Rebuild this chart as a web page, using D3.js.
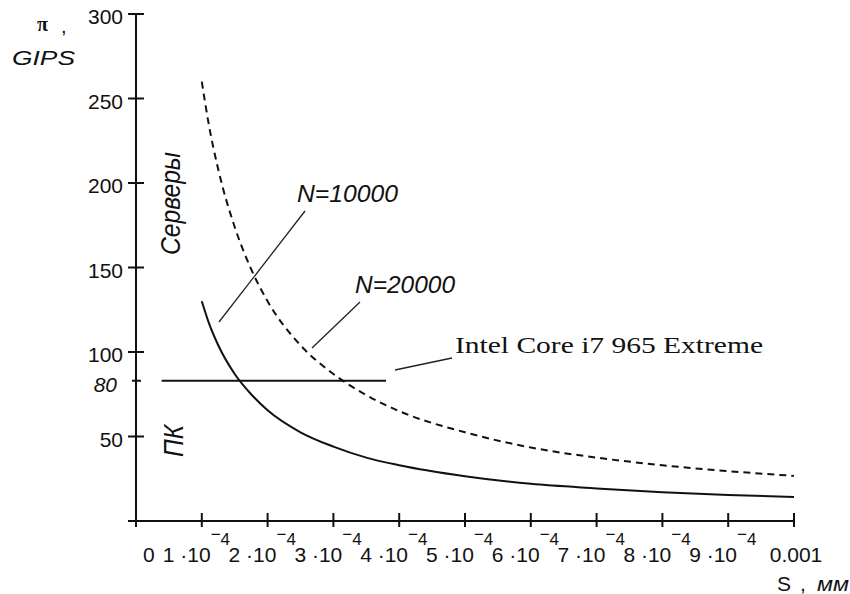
<!DOCTYPE html>
<html lang="ru">
<head>
  <meta charset="UTF-8" />
  <title>π(S)</title>
  <script src="https://d3js.org/d3.v7.min.js"></script>
  <style>
    body { margin: 0; background: #fff; }
    text { font-family: "Liberation Sans", Arial, sans-serif; fill: #111; }
    .serif { font-family: "Liberation Serif", "Times New Roman", serif; }
  </style>
</head>
<body>
  <svg id="chart" width="850" height="594"></svg>

  <script>
    // S in units of 1e-4 mm
    const sValues = [1.0, 1.1, 1.25, 1.5, 1.75, 2, 2.5, 3, 3.5, 4, 5, 6, 7, 8, 9, 10];
    const n10000 = [130, 118, 104, 87, 75, 65.5, 52.5, 44, 37.5, 33, 26.5, 22, 19.3, 17, 15.4, 14.2];
    const n20000 = [260, 236, 208, 174, 149, 130, 104, 87, 74.5, 65, 52.5, 43.5, 37.5, 33, 29.5, 26.7];

    const yTicks = [50, 100, 150, 200, 250, 300];
    const xTicks = [0, 1, 2, 3, 4, 5, 6, 7, 8, 9, 10];
    const xTickLabels = ["0", "1", "2", "3", "4", "5", "6", "7", "8", "9", "0.001"];

    // Intel Core i7 965 Extreme marker
    const markerValue = 83;
    const markerLabel = "80";
    const markerSpan = [0.39, 3.8];

    const svg = d3.select("#chart");
    const x = d3.scaleLinear().domain([0, 10]).range([136, 794]);
    const y = d3.scaleLinear().domain([0, 300]).range([521, 14]);

    // axes
    svg.append("line").attr("x1", x(0) - 8).attr("x2", x(10)).attr("y1", y(0)).attr("y2", y(0))
      .attr("stroke", "#111").attr("stroke-width", 2);
    svg.append("line").attr("x1", x(0)).attr("x2", x(0)).attr("y1", y(300)).attr("y2", y(0) + 6)
      .attr("stroke", "#111").attr("stroke-width", 2);

    svg.selectAll(".ytick").data(yTicks).join("line")
      .attr("x1", x(0) - 8).attr("x2", x(0) + 8)
      .attr("y1", d => y(d)).attr("y2", d => y(d))
      .attr("stroke", "#111").attr("stroke-width", 2);

    svg.selectAll(".ylab").data(yTicks).join("text")
      .attr("x", 123).attr("y", d => y(d) + 10)
      .attr("text-anchor", "end").attr("font-size", 21)
      .text(d => d);

    svg.selectAll(".xtick").data(xTicks).join("line")
      .attr("x1", d => x(d)).attr("x2", d => x(d))
      .attr("y1", y(0) - 8).attr("y2", y(0) + 6)
      .attr("stroke", "#111").attr("stroke-width", 2);

    svg.selectAll(".xlab").data(xTicks).join("text")
      .attr("font-size", 21)
      .attr("y", 562)
      .each(function (d, i) {
        const t = d3.select(this);
        if (i === 0) {
          t.attr("x", x(d) + 7).text(xTickLabels[i]);
        } else if (i === xTicks.length - 1) {
          t.attr("x", x(d) + 2).attr("text-anchor", "middle").text(xTickLabels[i]);
        } else {
          t.attr("x", x(d) - 39);
          t.append("tspan").text(xTickLabels[i] + " \u00b710");
          t.append("tspan").attr("font-size", 17).attr("dy", -22).text("\u2212");
          t.append("tspan").attr("font-size", 17).attr("dy", 5).text("4");
        }
      });

    // marker at 80
    svg.append("line").attr("x1", x(0) - 4).attr("x2", x(0) + 5)
      .attr("y1", y(markerValue)).attr("y2", y(markerValue))
      .attr("stroke", "#111").attr("stroke-width", 2);
    svg.append("text").attr("x", 117).attr("y", y(markerValue) + 11)
      .attr("text-anchor", "end").attr("font-size", 21).attr("font-style", "italic")
      .text(markerLabel);
    svg.append("line")
      .attr("x1", x(markerSpan[0])).attr("x2", x(markerSpan[1]))
      .attr("y1", y(markerValue)).attr("y2", y(markerValue))
      .attr("stroke", "#111").attr("stroke-width", 2);

    // curves
    const line = d3.line().x(d => x(d[0])).y(d => y(d[1])).curve(d3.curveMonotoneX);
    svg.append("path").datum(d3.zip(sValues, n10000)).attr("d", line)
      .attr("fill", "none").attr("stroke", "#111").attr("stroke-width", 2);
    svg.append("path").datum(d3.zip(sValues, n20000)).attr("d", line)
      .attr("fill", "none").attr("stroke", "#111").attr("stroke-width", 2)
      .attr("stroke-dasharray", "7,5");

    // annotations
    const leader = (x1, y1, x2, y2) => svg.append("line")
      .attr("x1", x1).attr("y1", y1).attr("x2", x2).attr("y2", y2)
      .attr("stroke", "#222").attr("stroke-width", 1.3);
    leader(219, 322, 305, 211);
    leader(312, 348, 360, 302);
    leader(395, 370, 452, 358);

    svg.append("text").attr("x", 297).attr("y", 202).attr("font-size", 23).attr("font-style", "italic")
      .attr("textLength", 101).attr("lengthAdjust", "spacingAndGlyphs").text("N=10000");
    svg.append("text").attr("x", 355).attr("y", 293).attr("font-size", 23).attr("font-style", "italic")
      .attr("textLength", 100).attr("lengthAdjust", "spacingAndGlyphs").text("N=20000");
    svg.append("text").attr("class", "serif").attr("x", 455).attr("y", 353).attr("font-size", 24)
      .attr("textLength", 308).attr("lengthAdjust", "spacingAndGlyphs").text("Intel Core i7 965 Extreme");

    svg.append("text").attr("transform", "translate(180,255) rotate(-90)")
      .attr("font-size", 28).attr("font-style", "italic")
      .attr("textLength", 103).attr("lengthAdjust", "spacingAndGlyphs").text("Серверы");
    svg.append("text").attr("transform", "translate(183,457) rotate(-90)")
      .attr("font-size", 28).attr("font-style", "italic")
      .attr("textLength", 32).attr("lengthAdjust", "spacingAndGlyphs").text("ПК");

    // axis titles
    svg.append("text").attr("class", "serif").attr("x", 37).attr("y", 31)
      .attr("font-size", 20).attr("font-weight", "bold").text("π");
    svg.append("text").attr("x", 61).attr("y", 33).attr("font-size", 20).text(",");
    svg.append("text").attr("x", 12).attr("y", 65).attr("font-size", 21).attr("font-style", "italic")
      .attr("textLength", 63).attr("lengthAdjust", "spacingAndGlyphs").text("GIPS");

    svg.append("text").attr("x", 777).attr("y", 591).attr("font-size", 21).text("S");
    svg.append("text").attr("x", 800).attr("y", 591).attr("font-size", 21).text(",");
    svg.append("text").attr("x", 817).attr("y", 591).attr("font-size", 21).attr("font-style", "italic")
      .attr("textLength", 32).attr("lengthAdjust", "spacingAndGlyphs").text("мм");
  </script>
</body>
</html>
